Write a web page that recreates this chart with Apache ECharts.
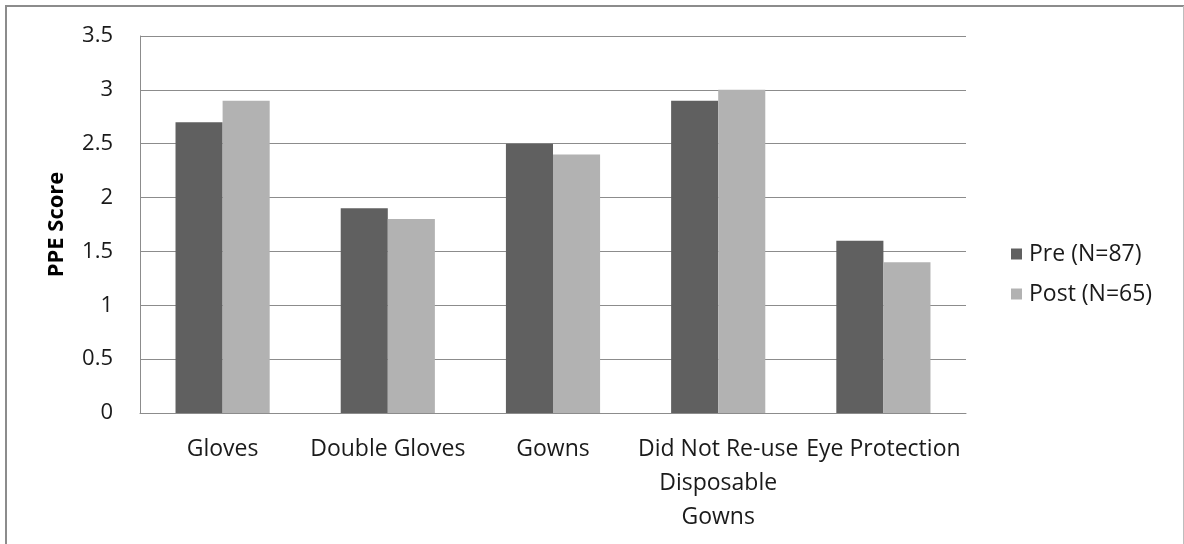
<!DOCTYPE html>
<html>
<head>
<meta charset="utf-8">
<script src="https://cdn.jsdelivr.net/npm/echarts@6/dist/echarts.min.js"></script>
<style>
  html, body { margin: 0; padding: 0; background: #fff; }
  #chart { width: 1184px; height: 544px; }
</style>
</head>
<body>
<div id="chart"></div>
<script>
// PPE scores by practice, before and after
const categories = ['Gloves', 'Double Gloves', 'Gowns', 'Did Not Re-use\nDisposable\nGowns', 'Eye Protection'];
const preScores = [2.7, 1.9, 2.5, 2.9, 1.6];
const postScores = [2.9, 1.8, 2.4, 3.0, 1.4];
const seriesNames = ['Pre (N=87)', 'Post (N=65)'];
const yAxisTitle = 'PPE Score';

const FONT = '"Open Sans", "Noto Sans", sans-serif';

const chart = echarts.init(document.getElementById('chart'), null, { renderer: 'canvas' });

chart.setOption({
  backgroundColor: '#ffffff',
  animation: false,
  textStyle: { fontFamily: FONT },
  grid: { left: 140, right: 218, top: 36, bottom: 131, containLabel: false },
  legend: {
    orient: 'vertical',
    left: 1006,
    top: 236,
    itemWidth: 11,
    itemHeight: 11,
    itemGap: 14,
    icon: 'rect',
    textStyle: { fontFamily: FONT, fontSize: 23, lineHeight: 26, color: '#1a1a1a', padding: [0, 0, 0, 2] },
    data: seriesNames
  },
  xAxis: {
    type: 'category',
    data: categories,
    axisLine: { show: true, lineStyle: { color: '#8c8c8c', width: 1 } },
    axisTick: { show: false },
    axisLabel: {
      interval: 0,
      margin: 19,
      fontFamily: FONT,
      fontSize: 23,
      color: '#1a1a1a',
      lineHeight: 34,
      align: 'center'
    }
  },
  yAxis: {
    type: 'value',
    min: 0,
    max: 3.5,
    interval: 0.5,
    name: yAxisTitle,
    nameLocation: 'middle',
    nameGap: 72,
    nameRotate: 90,
    nameTextStyle: { fontFamily: FONT, fontSize: 22, fontWeight: 'bold', color: '#000' },
    axisLine: { show: true, lineStyle: { color: '#8c8c8c', width: 1 } },
    axisTick: { show: false },
    axisLabel: { margin: 27, fontFamily: FONT, fontSize: 22, color: '#1a1a1a' },
    splitLine: { show: true, lineStyle: { color: '#8c8c8c', width: 1 } }
  },
  series: [
    {
      name: seriesNames[0],
      type: 'bar',
      data: preScores,
      barGap: '0%',
      barCategoryGap: '43%',
      itemStyle: { color: '#606060' }
    },
    {
      name: seriesNames[1],
      type: 'bar',
      data: postScores,
      itemStyle: { color: '#b2b2b2' }
    }
  ],
  graphic: [
    { type: 'line', shape: { x1: 5, y1: 6, x2: 1184, y2: 6 }, style: { stroke: '#8c8c8c', lineWidth: 2 } },
    { type: 'line', shape: { x1: 6, y1: 5, x2: 6, y2: 544 }, style: { stroke: '#8c8c8c', lineWidth: 2 } },
    { type: 'line', shape: { x1: 1183.5, y1: 6, x2: 1183.5, y2: 544 }, style: { stroke: '#bdbdbd', lineWidth: 1 } }
  ]
});
</script>
</body>
</html>
